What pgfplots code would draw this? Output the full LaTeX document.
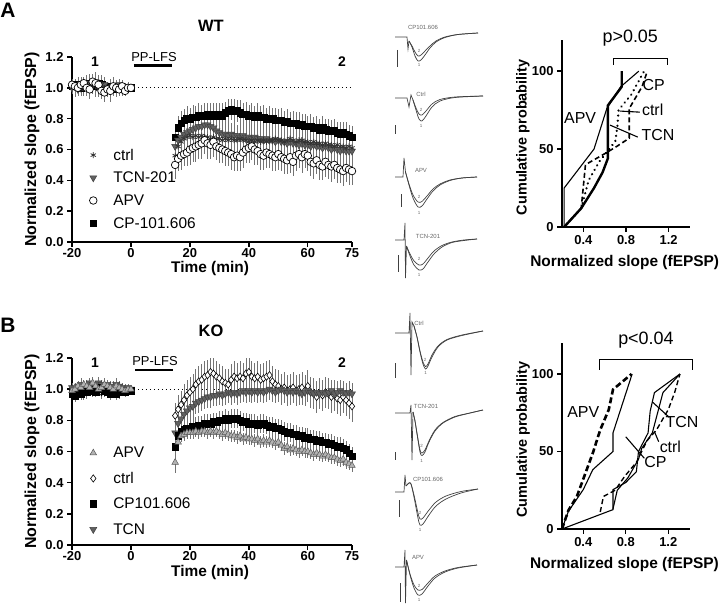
\documentclass[border=0pt]{standalone}
\usepackage{fontspec}
\setmainfont{Liberation Sans}
\usepackage{pgfplots}
\usepackage{pgfplotstable}
\pgfplotsset{compat=1.18}
\newcommand{\fs}[1]{\fontsize{#1}{#1}\selectfont}

\pgfplotstableread{
t ctrl ctrlE tcn tcnE apv apvE cp cpE
-20 1.01 0.05 1.00 0.04 1.02 0.04 1.01 0.03
-19 1.00 0.06 1.01 0.05 1.01 0.05 1.02 0.04
-18 1.02 0.05 0.99 0.04 1.00 0.04 1.01 0.03
-17 0.99 0.04 1.02 0.05 1.02 0.05 1.00 0.04
-16 1.01 0.06 1.01 0.04 1.03 0.04 1.02 0.03
-15 1.03 0.05 1.00 0.05 1.00 0.05 1.01 0.04
-14 1.00 0.04 1.03 0.06 0.99 0.06 1.03 0.05
-13 1.02 0.06 1.02 0.05 1.04 0.05 1.02 0.04
-12 1.01 0.07 1.04 0.06 1.03 0.05 1.01 0.04
-11 0.99 0.05 1.01 0.05 1.02 0.06 1.03 0.05
-10 1.02 0.06 1.00 0.04 0.98 0.05 1.02 0.04
-9 1.00 0.05 1.02 0.05 0.97 0.06 1.00 0.04
-8 0.98 0.04 1.00 0.04 0.99 0.05 1.01 0.03
-7 1.01 0.05 0.99 0.05 0.98 0.07 1.00 0.04
-6 1.00 0.04 1.01 0.04 1.01 0.06 0.99 0.03
-5 0.99 0.05 1.00 0.05 1.00 0.05 1.01 0.04
-4 1.01 0.04 1.02 0.04 0.99 0.04 1.00 0.03
-3 1.00 0.03 0.99 0.04 1.01 0.04 1.00 0.03
-2 0.99 0.04 1.00 0.03 0.98 0.03 0.99 0.03
-1 1.00 0.03 1.01 0.03 1.00 0.03 1.00 0.02
0 1.00 0.02 1.00 0.02 1.00 0.02 1.00 0.02
15 0.56 0.07 0.62 0.08 0.50 0.09 0.68 0.07
16 0.62 0.06 0.66 0.07 0.54 0.08 0.74 0.08
17 0.65 0.06 0.68 0.07 0.56 0.09 0.77 0.08
18 0.67 0.05 0.70 0.07 0.57 0.08 0.79 0.07
19 0.68 0.06 0.71 0.08 0.58 0.09 0.80 0.08
20 0.69 0.05 0.72 0.07 0.60 0.10 0.80 0.07
21 0.68 0.06 0.73 0.08 0.61 0.09 0.81 0.08
22 0.69 0.05 0.74 0.07 0.62 0.10 0.81 0.07
23 0.68 0.06 0.75 0.08 0.63 0.09 0.82 0.08
24 0.69 0.05 0.75 0.07 0.64 0.10 0.82 0.07
25 0.68 0.06 0.76 0.08 0.66 0.09 0.82 0.08
26 0.68 0.05 0.76 0.07 0.64 0.10 0.83 0.07
27 0.67 0.06 0.75 0.08 0.63 0.09 0.82 0.08
28 0.68 0.05 0.74 0.07 0.65 0.10 0.83 0.07
29 0.67 0.06 0.72 0.08 0.62 0.09 0.82 0.08
30 0.67 0.05 0.71 0.07 0.61 0.10 0.83 0.07
31 0.66 0.06 0.70 0.08 0.60 0.09 0.82 0.08
32 0.67 0.05 0.70 0.07 0.59 0.10 0.84 0.07
33 0.66 0.06 0.69 0.08 0.58 0.09 0.85 0.08
34 0.67 0.05 0.70 0.07 0.57 0.10 0.86 0.07
35 0.66 0.06 0.69 0.08 0.55 0.09 0.85 0.08
36 0.66 0.05 0.69 0.07 0.56 0.10 0.85 0.07
37 0.67 0.06 0.68 0.08 0.55 0.09 0.84 0.08
38 0.66 0.05 0.69 0.07 0.58 0.10 0.83 0.07
39 0.66 0.06 0.68 0.08 0.60 0.09 0.83 0.08
40 0.65 0.05 0.68 0.07 0.61 0.10 0.82 0.07
41 0.66 0.06 0.67 0.08 0.62 0.09 0.82 0.08
42 0.65 0.05 0.68 0.07 0.60 0.10 0.81 0.07
43 0.66 0.06 0.67 0.08 0.59 0.09 0.82 0.08
44 0.65 0.05 0.67 0.07 0.57 0.10 0.81 0.07
45 0.66 0.06 0.66 0.08 0.56 0.09 0.81 0.08
46 0.65 0.05 0.67 0.07 0.58 0.10 0.80 0.07
47 0.66 0.06 0.66 0.08 0.57 0.09 0.80 0.08
48 0.66 0.05 0.66 0.07 0.56 0.10 0.80 0.07
49 0.67 0.06 0.65 0.08 0.55 0.09 0.79 0.08
50 0.66 0.05 0.66 0.07 0.57 0.10 0.79 0.07
51 0.66 0.06 0.65 0.08 0.55 0.09 0.79 0.08
52 0.65 0.05 0.65 0.07 0.54 0.10 0.78 0.07
53 0.66 0.06 0.64 0.08 0.53 0.09 0.78 0.08
54 0.67 0.05 0.65 0.07 0.55 0.10 0.77 0.07
55 0.66 0.06 0.64 0.08 0.52 0.09 0.77 0.08
56 0.65 0.05 0.64 0.07 0.56 0.10 0.77 0.07
57 0.66 0.06 0.63 0.08 0.57 0.09 0.76 0.08
58 0.66 0.05 0.64 0.07 0.55 0.10 0.76 0.07
59 0.65 0.06 0.63 0.08 0.57 0.09 0.75 0.08
60 0.65 0.05 0.63 0.07 0.56 0.10 0.75 0.07
61 0.64 0.06 0.62 0.08 0.52 0.09 0.75 0.08
62 0.65 0.05 0.63 0.07 0.51 0.10 0.74 0.07
63 0.64 0.06 0.62 0.08 0.53 0.09 0.74 0.08
64 0.64 0.05 0.62 0.07 0.50 0.10 0.73 0.07
65 0.63 0.06 0.61 0.08 0.49 0.09 0.74 0.08
66 0.64 0.05 0.62 0.07 0.52 0.10 0.73 0.07
67 0.63 0.06 0.61 0.08 0.50 0.09 0.72 0.08
68 0.63 0.05 0.60 0.07 0.49 0.10 0.72 0.07
69 0.62 0.06 0.61 0.08 0.50 0.09 0.72 0.08
70 0.63 0.05 0.60 0.07 0.48 0.10 0.71 0.07
71 0.62 0.06 0.59 0.08 0.47 0.09 0.70 0.08
72 0.62 0.05 0.60 0.07 0.46 0.10 0.71 0.07
73 0.61 0.06 0.59 0.08 0.48 0.09 0.70 0.08
74 0.62 0.05 0.59 0.07 0.47 0.10 0.69 0.07
75 0.61 0.06 0.59 0.08 0.46 0.09 0.68 0.07
}\wt

\pgfplotstableread{
t apv apvE ctrl ctrlE cp cpE tcn tcnE
-20 0.99 0.03 1.00 0.04 0.97 0.03 1.01 0.03
-19 1.00 0.04 0.98 0.03 0.96 0.04 1.00 0.04
-18 1.02 0.03 0.99 0.04 0.98 0.03 1.02 0.03
-17 1.01 0.04 1.01 0.03 0.97 0.04 1.03 0.04
-16 1.03 0.03 0.97 0.04 0.99 0.03 1.01 0.03
-15 1.02 0.04 0.98 0.03 0.98 0.04 1.02 0.04
-14 1.01 0.03 1.00 0.04 1.00 0.03 1.04 0.03
-13 1.04 0.04 0.99 0.03 0.99 0.04 1.03 0.04
-12 1.02 0.03 1.01 0.04 0.98 0.03 1.02 0.03
-11 1.00 0.04 1.00 0.03 1.00 0.04 1.04 0.04
-10 1.01 0.03 0.98 0.04 1.01 0.03 1.03 0.03
-9 1.03 0.04 0.99 0.03 0.99 0.04 1.02 0.04
-8 1.02 0.03 1.00 0.04 0.98 0.03 1.03 0.03
-7 1.01 0.04 1.01 0.03 0.97 0.04 1.01 0.04
-6 1.00 0.03 0.99 0.04 0.98 0.03 1.02 0.03
-5 1.02 0.04 1.00 0.03 0.97 0.04 1.03 0.04
-4 1.01 0.03 0.98 0.04 0.98 0.03 1.02 0.03
-3 1.00 0.03 1.00 0.03 0.99 0.03 1.01 0.03
-2 0.99 0.03 0.99 0.03 0.98 0.03 1.00 0.03
-1 1.00 0.02 1.00 0.02 0.99 0.02 1.01 0.02
0 1.00 0.02 1.00 0.02 0.99 0.02 1.00 0.02
15 0.53 0.07 0.83 0.08 0.63 0.07 0.72 0.08
16 0.66 0.05 0.87 0.09 0.70 0.06 0.78 0.07
17 0.70 0.04 0.90 0.09 0.73 0.06 0.81 0.07
18 0.71 0.04 0.93 0.10 0.74 0.06 0.84 0.07
19 0.72 0.04 0.96 0.10 0.75 0.06 0.86 0.07
20 0.72 0.04 0.98 0.10 0.75 0.06 0.88 0.07
21 0.72 0.04 1.00 0.10 0.76 0.06 0.89 0.07
22 0.73 0.04 1.03 0.10 0.76 0.06 0.91 0.07
23 0.72 0.04 1.05 0.10 0.77 0.06 0.92 0.07
24 0.73 0.04 1.06 0.10 0.77 0.06 0.93 0.07
25 0.73 0.04 1.08 0.10 0.78 0.06 0.94 0.07
26 0.72 0.04 1.09 0.10 0.78 0.06 0.95 0.07
27 0.73 0.04 1.11 0.09 0.78 0.06 0.95 0.07
28 0.72 0.04 1.10 0.10 0.79 0.06 0.96 0.07
29 0.73 0.04 1.08 0.10 0.79 0.06 0.96 0.07
30 0.72 0.04 1.07 0.09 0.80 0.06 0.97 0.07
31 0.71 0.04 1.05 0.10 0.80 0.06 0.96 0.07
32 0.72 0.04 1.04 0.09 0.81 0.06 0.97 0.07
33 0.71 0.04 1.03 0.10 0.80 0.06 0.98 0.07
34 0.70 0.04 1.06 0.10 0.81 0.06 0.97 0.07
35 0.70 0.04 1.08 0.10 0.81 0.06 0.98 0.07
36 0.69 0.04 1.07 0.10 0.81 0.06 0.97 0.07
37 0.70 0.04 1.08 0.10 0.80 0.06 0.98 0.07
38 0.68 0.04 1.07 0.10 0.79 0.06 0.99 0.07
39 0.69 0.04 1.10 0.10 0.79 0.06 0.98 0.07
40 0.68 0.04 1.11 0.09 0.78 0.06 0.99 0.07
41 0.68 0.04 1.08 0.10 0.78 0.06 0.98 0.07
42 0.67 0.04 1.07 0.10 0.78 0.06 0.99 0.07
43 0.68 0.04 1.08 0.10 0.77 0.06 0.98 0.07
44 0.66 0.04 1.06 0.10 0.78 0.06 0.99 0.07
45 0.67 0.04 1.07 0.10 0.78 0.06 0.98 0.07
46 0.66 0.04 1.08 0.10 0.77 0.06 0.99 0.07
47 0.67 0.04 1.09 0.10 0.76 0.06 1.00 0.07
48 0.66 0.04 1.05 0.10 0.76 0.06 0.99 0.07
49 0.65 0.04 1.03 0.10 0.75 0.06 0.98 0.07
50 0.66 0.04 1.02 0.10 0.75 0.06 0.99 0.07
51 0.64 0.04 1.00 0.10 0.74 0.06 1.00 0.07
52 0.62 0.04 1.01 0.10 0.73 0.06 0.99 0.07
53 0.63 0.04 0.99 0.10 0.72 0.06 0.98 0.07
54 0.61 0.04 1.00 0.10 0.72 0.06 0.99 0.07
55 0.62 0.04 1.01 0.10 0.71 0.06 0.98 0.07
56 0.61 0.04 0.99 0.10 0.71 0.06 0.99 0.07
57 0.60 0.04 1.00 0.10 0.70 0.06 0.98 0.07
58 0.61 0.04 1.01 0.10 0.70 0.06 0.97 0.07
59 0.60 0.04 0.99 0.10 0.69 0.06 0.98 0.07
60 0.60 0.04 1.02 0.10 0.69 0.06 0.99 0.07
61 0.59 0.04 0.98 0.10 0.68 0.06 0.98 0.07
62 0.58 0.04 0.97 0.10 0.68 0.06 0.97 0.07
63 0.59 0.04 0.95 0.10 0.67 0.06 0.98 0.07
64 0.58 0.04 0.97 0.10 0.67 0.06 0.97 0.07
65 0.57 0.04 0.96 0.10 0.66 0.06 0.98 0.07
66 0.58 0.04 0.98 0.10 0.66 0.06 0.97 0.07
67 0.57 0.04 0.97 0.10 0.65 0.06 0.98 0.07
68 0.56 0.04 0.95 0.10 0.65 0.06 0.99 0.07
69 0.56 0.04 0.96 0.10 0.64 0.06 0.97 0.07
70 0.55 0.04 0.94 0.10 0.63 0.06 0.98 0.07
71 0.54 0.04 0.93 0.10 0.63 0.06 0.99 0.07
72 0.55 0.04 0.95 0.10 0.62 0.06 0.98 0.07
73 0.53 0.04 0.93 0.10 0.61 0.06 0.97 0.07
74 0.52 0.04 0.91 0.10 0.59 0.06 0.98 0.07
75 0.51 0.04 0.89 0.10 0.57 0.06 0.97 0.07
}\ko

\tikzset{lab/.style={font=\fs{16}}}
\pgfplotsset{
  lgimg/.style={legend image code/.code={\draw[##1] plot coordinates {(4bp,0bp)};
      \path[draw=none, fill=none] (0bp,-4bp) rectangle (22bp,4bp);}},
  eb/.style={error bars/.cd, y dir=both, y explicit, error mark=none,
    error bar style={line width=0.6bp, black!55}},
  mctrlA/.style={only marks, mark=asterisk, mark size=3bp, color=black!80, mark options={line width=0.8bp}, lgimg},
  mtcn/.style={only marks, mark=triangle*, mark size=4bp, mark options={rotate=180, fill=black!62, draw=black!75, line width=0.5bp}, lgimg},
  mapvA/.style={only marks, mark=*, mark size=3.8bp, mark options={fill=white, draw=black, line width=0.7bp}, lgimg},
  mcp/.style={only marks, mark=square*, mark size=3.3bp, mark options={fill=black, draw=black}, lgimg},
  mapvB/.style={only marks, mark=triangle*, mark size=3.8bp, mark options={fill=black!30, draw=black!65, line width=0.5bp}, lgimg},
  mctrlB/.style={only marks, mark=diamond*, mark size=3.6bp, mark options={fill=white, draw=black, line width=0.6bp}, lgimg},
  tc/.style={scale only axis, width=280bp, xmin=-20, xmax=75, ymin=0, ymax=1.2,
    axis lines*=left, axis line style={line width=1.6bp}, tick style={line width=1.4bp, black},
    tick align=outside, major tick length=5bp,
    xtick={-20,0,20,40,60,75}, ytick={0,0.2,0.4,0.6,0.8,1.0,1.2},
    /pgf/number format/assume math mode=true,
    tick label style={font=\bfseries\fs{13}},
    xticklabel style={inner sep=1bp},
    yticklabel style={/pgf/number format/.cd, fixed, fixed zerofill, precision=1},
    xlabel={Time (min)}, ylabel={Normalized slope (fEPSP)},
    xlabel style={font=\bfseries\fs{15.5}, inner sep=0pt, at={(axis description cs:0.493,-0.146)}, anchor=center},
    ylabel style={font=\bfseries\fs{16}, at={(axis description cs:-0.143,0.5)}, anchor=center},
    clip=false,
    legend cell align=left,
    legend style={draw=none, fill=none, inner sep=0pt, font=\fs{15.5},
      nodes={inner sep=2bp, text height=11bp, text depth=1bp}}},
  cp/.style={scale only axis, xmin=0.2, xmax=1.4, ymin=0, ymax=120,
    axis lines*=left, axis line style={line width=1.6bp}, tick style={line width=1.4bp, black},
    tick align=outside, major tick length=5bp,
    xtick={0.4,0.8,1.2}, ytick={0,50,100},
    /pgf/number format/assume math mode=true,
    tick label style={font=\bfseries\fs{13}},
    xticklabel style={/pgf/number format/.cd, fixed, fixed zerofill, precision=1},
    xlabel={Normalized slope (fEPSP)}, ylabel={Cumulative probability},
    xlabel style={font=\bfseries\fs{15.5}, at={(axis description cs:0.49,-0.19)}, anchor=center},
    ylabel style={font=\bfseries\fs{14.5}, at={(axis description cs:-0.305,0.48)}, anchor=center},
    clip=false},
  tr/.style={line width=0.7bp, black!75, no markers},
}
\newcommand{\lgent}[1]{\addlegendentry{\fs{15.5}#1}}

\begin{document}
\begin{tikzpicture}
\useasboundingbox (0,0) rectangle (720bp,606bp);

% ---------- A: WT time course ----------
\begin{axis}[tc, at={(72bp,364bp)}, anchor=south west, height=185bp,
  legend style={at={(0.061,0.514)}, anchor=north west, row sep=6.7bp}]
\addlegendimage{mctrlA}\lgent{ctrl}
\addlegendimage{mtcn}\lgent{TCN-201}
\addlegendimage{mapvA}\lgent{APV}
\addlegendimage{mcp}\lgent{CP-101.606}
\addplot[forget plot, line width=1.3bp, dash pattern=on 1.3bp off 2.7bp] coordinates {(1,1)(75,1)};
\addplot[forget plot, line width=2.6bp] coordinates {(1,1.143)(14,1.143)};
\addplot[forget plot, mcp, eb] table[x=t, y=cp, y error=cpE] {\wt};
\addplot[forget plot, mtcn, eb] table[x=t, y=tcn, y error=tcnE] {\wt};
\addplot[forget plot, mctrlA, eb] table[x=t, y=ctrl, y error=ctrlE] {\wt};
\addplot[forget plot, mapvA, eb] table[x=t, y=apv, y error=apvE] {\wt};
\end{axis}

% ---------- B: KO time course ----------
\begin{axis}[tc, at={(72bp,61bp)}, anchor=south west, height=187bp,
  legend style={at={(0.061,0.536)}, anchor=north west, row sep=9.5bp}]
\addlegendimage{mapvB}\lgent{APV}
\addlegendimage{mctrlB}\lgent{ctrl}
\addlegendimage{mcp}\lgent{CP101.606}
\addlegendimage{mtcn}\lgent{TCN}
\addplot[forget plot, line width=1.3bp, dash pattern=on 1.3bp off 2.7bp] coordinates {(1,1)(75,1)};
\addplot[forget plot, line width=2.6bp] coordinates {(1.4,1.123)(14.3,1.123)};
\addplot[forget plot, mctrlB, eb] table[x=t, y=ctrl, y error=ctrlE] {\ko};
\addplot[forget plot, mtcn, eb] table[x=t, y=tcn, y error=tcnE] {\ko};
\addplot[forget plot, mcp, eb] table[x=t, y=cp, y error=cpE] {\ko};
\addplot[forget plot, mapvB, eb] table[x=t, y=apv, y error=apvE] {\ko};
\end{axis}

% ---------- A: cumulative ----------
\begin{axis}[cp, at={(562bp,379bp)}, anchor=south west, width=128bp, height=187bp]
\addplot[black, line width=1.1bp] coordinates {(0.22,0)(0.22,25)(0.5,50)(0.62,76)(0.75,90)(0.92,100)};
\addplot[black, line width=2.4bp] coordinates {(0.22,0)(0.38,12)(0.5,25)(0.58,35)(0.63,44)(0.63,78)(0.76,90)(0.76,100)};
\addplot[black, line width=1.6bp, dash pattern=on 5bp off 3bp] coordinates {(0.22,0)(0.38,12)(0.42,40)(0.6,47)(0.72,52)(0.83,57)(0.83,76)(0.95,90)(1.0,100)};
\addplot[black, line width=2.4bp, line cap=round, dash pattern=on 0.1bp off 5bp] coordinates {(0.22,0)(0.38,12)(0.45,30)(0.55,42)(0.7,55)(0.72,65)(0.73,75)(0.85,85)(0.93,95)(0.97,100)};
\addplot[black, line width=1.1bp] coordinates {(0.74,74.4)(0.93,73.7)};
\addplot[black, line width=1.1bp] coordinates {(0.65,65.4)(0.91,57.7)};
\addplot[black, line width=1.1bp] coordinates {(0.68,104)(0.68,108)(1.19,108)(1.19,104)};
\node[lab] at (axis cs:0.37,70) {APV};
\node[lab] at (axis cs:1.06,91) {CP};
\node[lab] at (axis cs:1.05,75.5) {ctrl};
\node[lab] at (axis cs:1.1,59) {TCN};
\node[font=\fs{18}] at (axis cs:0.84,121) {p>0.05};
\end{axis}

% ---------- B: cumulative ----------
\begin{axis}[cp, at={(562bp,77bp)}, anchor=south west, width=127.5bp, height=186bp]
\addplot[black, line width=1.1bp] coordinates {(0.2,0)(0.26,11.4)(0.4,25.4)(0.49,38.3)(0.68,50)(0.68,62)(0.86,100)};
\addplot[black, line width=2.6bp, dash pattern=on 6bp off 3bp] coordinates {(0.2,0)(0.26,12)(0.34,21)(0.49,49)(0.56,64)(0.64,77)(0.68,90)(0.855,100)};
\addplot[black, line width=1.1bp] coordinates {(0.2,0)(0.68,12.5)(0.68,25.4)(0.8,30)(0.9,37)(0.92,50)(1.01,62)(1.03,76)(1.07,88)(1.31,100)};
\addplot[black, line width=1.1bp] coordinates {(0.68,13)(0.72,25)(0.82,33)(0.92,45)(0.95,52)(1.05,62)(1.1,75)(1.15,88)(1.31,100)};
\addplot[black, line width=1.4bp, dash pattern=on 5bp off 3bp] coordinates {(0.56,11)(0.59,21)(0.7,25)(0.79,34)(0.9,43)(1.0,57)(1.09,64)(1.2,77)(1.26,88)(1.31,100)};
\addplot[black, line width=1.1bp] coordinates {(1.05,82)(1.21,72)};
\addplot[black, line width=1.1bp] coordinates {(0.80,59.5)(0.975,45.6)};
\addplot[black, line width=1.1bp] coordinates {(1.07,62.8)(1.11,56.3)};
\addplot[black, line width=1.1bp] coordinates {(0.55,102.6)(0.55,109.5)(1.43,109.5)(1.43,102.6)};
\node[lab] at (axis cs:0.40,75.7) {APV};
\node[lab] at (axis cs:1.33,69) {TCN};
\node[lab] at (axis cs:1.22,53) {ctrl};
\node[lab] at (axis cs:1.08,43.4) {CP};
\node[font=\fs{18}] at (axis cs:0.99,122) {p<0.04};
\end{axis}

% ---------- overlay: traces and panel text (pixel coordinates) ----------
\begin{axis}[at={(0bp,0bp)}, anchor=south west, scale only axis, width=720bp, height=606bp,
  xmin=0, xmax=720, ymin=0, ymax=606, y dir=reverse, hide axis, clip=false]
% A1 CP101.606
\addplot[tr] coordinates {(395,37)(407,37)(408,49)(409,41)};
\addplot[tr, smooth] coordinates {(409,41)(412,47)(415,56)(418,61)(421,60)(425,55)(430,48)(436,42)(445,37.5)(458,34.5)(478,33)};
\addplot[tr, smooth] coordinates {(409,41)(412,46)(415,52)(418,56)(421,55)(425,51)(430,46)(436,41)(445,37)(458,34.5)(478,33)};
\addplot[tr] coordinates {(397,50)(397,67)};
% A2 Ctrl
\addplot[tr] coordinates {(395,98)(407,98)(409,107)(411,95)(413,100)};
\addplot[tr, smooth] coordinates {(413,100)(416,110)(419,119)(422,121)(426,116)(432,107)(440,101)(455,97.5)(483,96)};
\addplot[tr, smooth] coordinates {(413,100)(416,108)(419,114)(422,115)(426,111)(432,104)(440,99.5)(455,97)(483,96)};
\addplot[tr] coordinates {(395,125)(395,134)};
% A3 APV
\addplot[tr] coordinates {(395,177)(403,177)(404,158)(405.5,172)};
\addplot[tr, smooth] coordinates {(405.5,172)(409,185)(413,198)(418,207)(422,206)(427,199)(433,191)(440,185)(450,180.5)(462,178)(477,177)};
\addplot[tr, smooth] coordinates {(405.5,172)(409,184)(413,195)(418,202)(422,201.5)(427,196)(433,189)(440,184)(450,180)(462,178)(477,177)};
\addplot[tr] coordinates {(401,194)(401,207)};
% A4 TCN-201
\addplot[tr] coordinates {(395,240)(404,240)(405,223)(405.5,278)(406.5,246)};
\addplot[tr, smooth] coordinates {(406.5,246)(410,256)(414,265)(419,270)(423,269)(428,262)(434,254)(442,247)(452,242.5)(464,240.5)(477,239)};
\addplot[tr, smooth] coordinates {(406.5,246)(410,254)(414,261)(419,265)(423,264)(428,258)(434,251)(442,245.5)(452,242)(464,240)(477,239)};
\addplot[tr] coordinates {(398,255)(398,272)};
% B1 Ctrl
\addplot[tr] coordinates {(395,333)(409,333)(410,313)(411,375)(412,322)(414,326)};
\addplot[tr, smooth] coordinates {(414,326)(417,337)(420,352)(423,364)(425.5,369)(428,366)(432,357)(438,347)(447,340)(462,335.5)(483,331)};
\addplot[tr, smooth] coordinates {(414,326)(417,337)(420,351)(423,362)(425.5,366.5)(428,364)(432,355)(438,346)(447,339.5)(462,335)(483,331)};
\addplot[tr] coordinates {(395,363)(395,378)};
% B2 TCN-201
\addplot[tr] coordinates {(395,413)(410,413)(411,405)(412,460)(413,412)};
\addplot[tr, smooth] coordinates {(413,412)(415,421)(417,434)(420,452)(422,455.5)(425,452)(429,442)(435,431)(443,423)(455,417)(470,413)(483,410)};
\addplot[tr, smooth] coordinates {(413,412)(415,421)(417,433)(420,450)(422,453)(425,450)(429,441)(435,430)(443,422.5)(455,416.5)(470,413)(483,410)};
\addplot[tr] coordinates {(395,452)(395,460)};
% B3 CP101.606
\addplot[tr] coordinates {(395,492)(404,492)(405,475)(406,486)};
\addplot[tr, smooth] coordinates {(406,486)(409,483)(411,484)(414,497)(418,518)(420,525)(423,524)(429,515)(436,506)(446,499)(461,493)(478,489)};
\addplot[tr, smooth] coordinates {(406,486)(409,483)(411,484)(414,495)(418,513)(420,519)(423,518)(429,510)(436,502)(446,496)(461,491.5)(478,489)};
\addplot[tr] coordinates {(399,500)(399,517)};
% B4 APV
\addplot[tr] coordinates {(395,567)(404,567)(405,550)(405.5,603)(406.5,560)};
\addplot[tr, smooth] coordinates {(406.5,560)(410,575)(414,588)(418,595)(422,594)(428,586)(435,578)(445,572)(458,568)(477,565)};
\addplot[tr, smooth] coordinates {(406.5,560)(410,574)(414,585)(418,590)(422,589.5)(428,583)(435,576)(445,571)(458,567.5)(477,565)};
\addplot[tr] coordinates {(400,583)(400,602)};
% trace labels
\begin{scope}[every node/.style={font=\fs{6}, text=black!60, inner sep=0pt}]
\node at (axis cs:423,27) {CP101.606};
\node at (axis cs:421,94) {Ctrl};
\node at (axis cs:421,170) {APV};
\node at (axis cs:428,236) {TCN-201};
\node at (axis cs:419,323) {Ctrl};
\node at (axis cs:426,406) {TCN-201};
\node at (axis cs:428,479) {CP101.606};
\node at (axis cs:418,557) {APV};
\end{scope}
\begin{scope}[every node/.style={font=\fs{4.5}, text=black!60, inner sep=0pt}]
\node at (axis cs:419,50.5) {2}; \node at (axis cs:419,64.5) {1};
\node at (axis cs:421,110) {2}; \node at (axis cs:421,126) {1};
\node at (axis cs:419,197) {2}; \node at (axis cs:419,213) {1};
\node at (axis cs:419,259) {2}; \node at (axis cs:419,275) {1};
\node at (axis cs:425,360) {2}; \node at (axis cs:425.5,373) {1};
\node at (axis cs:421.5,446) {2}; \node at (axis cs:421.5,461) {1};
\node at (axis cs:420,513) {2}; \node at (axis cs:420,530) {1};
\node at (axis cs:419,586) {2}; \node at (axis cs:419,600) {1};
\end{scope}
% panel text
\node[font=\bfseries\fs{21}] at (axis cs:8,10) {A};
\node[font=\bfseries\fs{21}] at (axis cs:8,325) {B};
\node[font=\bfseries\fs{16.5}] at (axis cs:211,26) {WT};
\node[font=\bfseries\fs{16.5}] at (axis cs:211,331) {KO};
\node[font=\fs{13}] at (axis cs:154,57) {PP-LFS};
\node[font=\fs{13}] at (axis cs:155,361) {PP-LFS};
\node[font=\bfseries\fs{14}] at (axis cs:95,62) {1};
\node[font=\bfseries\fs{14}] at (axis cs:342,62) {2};
\node[font=\bfseries\fs{14}] at (axis cs:95,363) {1};
\node[font=\bfseries\fs{14}] at (axis cs:342,363) {2};
\end{axis}
\end{tikzpicture}
\end{document}
